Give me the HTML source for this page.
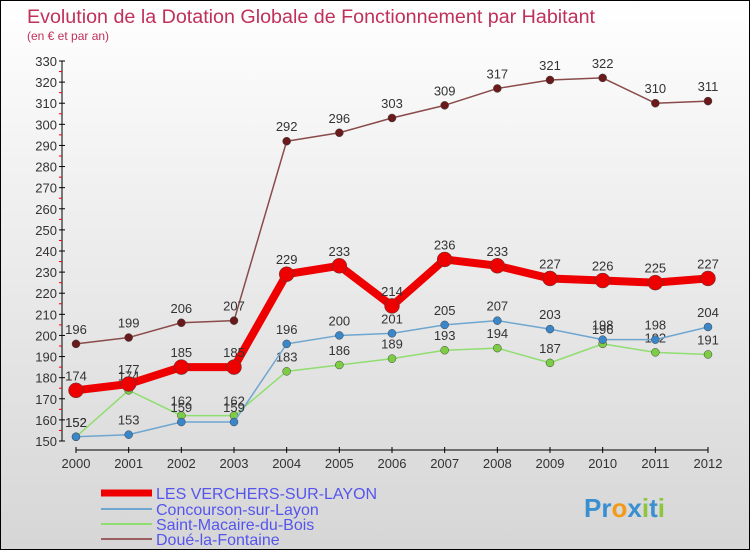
<!DOCTYPE html>
<html><head><meta charset="utf-8"><style>
body{margin:0}
#c{width:748px;height:548px;border:1px solid #000;background:linear-gradient(#fff 0%,#f2f2f2 30%,#d6d6d6 100%);position:relative;font-family:"Liberation Sans",sans-serif;overflow:hidden}
</style></head><body>
<div id="c">
<svg width="748" height="548" id="s" style="position:absolute;left:0;top:0">
<text x="26" y="22" font-size="19.7" fill="#c0305a">Evolution de la Dotation Globale de Fonctionnement par Habitant</text>
<text x="26" y="39" font-size="12" fill="#c0305a">(en € et par an)</text>
<g id="ax"></g><g id="series"></g>
<g font-size="16" fill="#5555ee">
<line x1="100" y1="492" x2="151" y2="492" stroke="#e00" stroke-width="7"/>
<text x="155" y="498">LES VERCHERS-SUR-LAYON</text>
<line x1="100" y1="508" x2="151" y2="508" stroke="#6fa6d0" stroke-width="2"/>
<text x="155" y="514">Concourson-sur-Layon</text>
<line x1="100" y1="523" x2="151" y2="523" stroke="#90dd70" stroke-width="2"/>
<text x="155" y="529">Saint-Macaire-du-Bois</text>
<line x1="100" y1="538" x2="151" y2="538" stroke="#9a6060" stroke-width="2"/>
<text x="155" y="544">Doué-la-Fontaine</text>
</g>
<text x="583" y="516" font-size="26" font-weight="bold"><tspan fill="#3a8fd0">Pr</tspan><tspan fill="#f29a1a">o</tspan><tspan fill="#3a8fd0">x</tspan><tspan fill="#8cc63f">i</tspan><tspan fill="#3a8fd0">t</tspan><tspan fill="#8cc63f">i</tspan></text>
</svg>
</div>
<script>
const years=[2000,2001,2002,2003,2004,2005,2006,2007,2008,2009,2010,2011,2012];
const verchers=[174,177,185,185,229,233,214,236,233,227,226,225,227];
const concourson=[152,153,159,159,196,200,201,205,207,203,198,198,204];
const macaire=[152,174,162,162,183,186,189,193,194,187,196,192,191];
const doue=[196,199,206,207,292,296,303,309,317,321,322,310,311];
const yTicks=[150,160,170,180,190,200,210,220,230,240,250,260,270,280,290,300,310,320,330];
const NS="http://www.w3.org/2000/svg";
const X=i=>75+i*(707-75)/12;
const Y=v=>440-(v-150)*(380/180);
function mk(t,a,p){const e=document.createElementNS(NS,t);for(const k in a)e.setAttribute(k,a[k]);p.appendChild(e);return e;}
const ax=document.getElementById('ax');
const yl=mk('line',{x1:61,y1:Y(330),x2:61,y2:Y(150),stroke:'#000'},ax);


yTicks.forEach(v=>{
 mk('line',{x1:58,y1:Y(v),x2:64,y2:Y(v),stroke:'#000'},ax);
 if(v<330)mk('line',{x1:58,y1:Y(v+5),x2:61,y2:Y(v+5),stroke:'#e00'},ax);
 const t=mk('text',{x:56,y:Y(v)+5,'text-anchor':'end','font-size':13,fill:'#333'},ax);t.textContent=v;
 
 
});
const xl=mk('line',{x1:X(0),y1:449,x2:X(12),y2:449,stroke:'#000'},ax);


years.forEach((y,i)=>{
 mk('line',{x1:X(i),y1:446,x2:X(i),y2:452,stroke:'#000'},ax);
 const t=mk('text',{x:X(i),y:467,'text-anchor':'middle','font-size':13,fill:'#333'},ax);t.textContent=y;
 
 
});
const sg=document.getElementById('series');
function draw(d,name,col,dot,w,r){
 const g=mk('g',{},sg);
 
 
 mk('polyline',{points:d.map((v,i)=>X(i)+','+Y(v)).join(' '),fill:'none',stroke:col,'stroke-width':w,'stroke-linejoin':'round'},g);
 d.forEach((v,i)=>{
  const c=mk('circle',{cx:X(i),cy:Y(v),r:r,fill:dot,stroke:'#444','stroke-width':0.5},g);
  
  
  const t=mk('text',{x:X(i),y:Y(v)-10,'text-anchor':'middle','font-size':13,fill:'#333'},g);t.textContent=v;
  
  
 });
}
draw(doue,'doue','#8a4a4a','#6a1a1a',1.5,4);
draw(macaire,'macaire','#90dd70','#7ccc44',1.5,4);
draw(concourson,'concourson','#6fa6d0','#3a86c8',1.5,4);
draw(verchers,'verchers','#e00','#e00',8,7.5);
</script>
</body></html>
